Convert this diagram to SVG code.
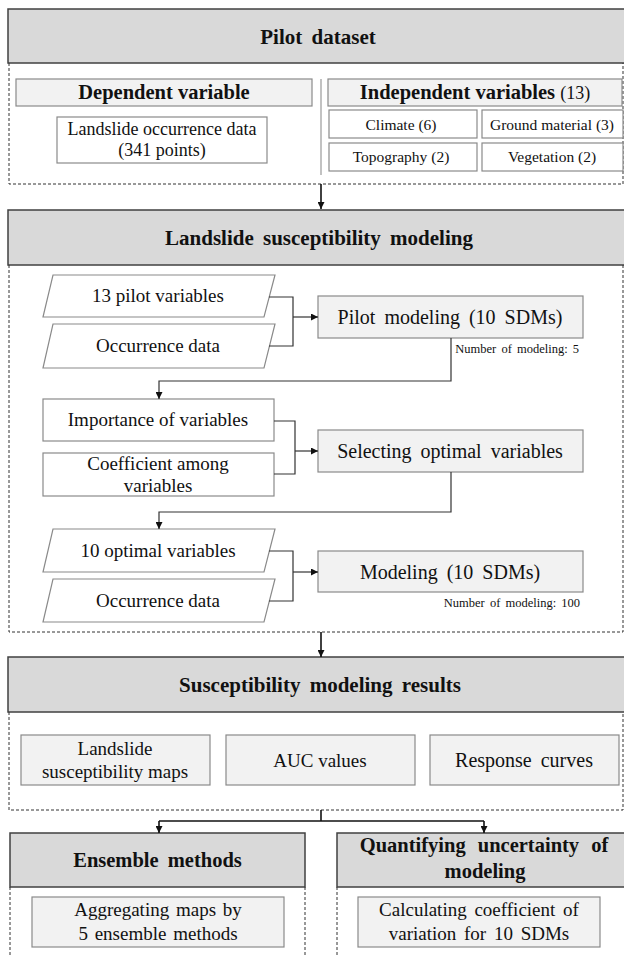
<svg xmlns="http://www.w3.org/2000/svg" width="624" height="956" viewBox="0 0 624 956" font-family="'Liberation Serif', 'Times New Roman', serif">
  <style>
    text { font-family: "Liberation Serif", "Times New Roman", serif; fill: #111; text-anchor: middle; }
    .hdr { fill: #d9d9d9; stroke: #404040; stroke-width: 1.5; }
    .sub { fill: #f2f2f2; stroke: #8a8a8a; stroke-width: 1.2; }
    .plain { fill: #ffffff; stroke: #8a8a8a; stroke-width: 1.2; }
    .frame { fill: none; stroke: #333; stroke-width: 1; stroke-dasharray: 3 2; }
    .ht { font-size: 21px; font-weight: bold; word-spacing: 4px; }
    .st { font-size: 20.5px; font-weight: bold; }
    .bt { font-size: 19px; }
    .big { font-size: 20px; word-spacing: 4px; }
    .mt { font-size: 18px; }
    .vt { font-size: 15.5px; }
    .note { font-size: 12.5px; text-anchor: end; word-spacing: 2px; }
    .wire { fill: none; stroke: #333; stroke-width: 1.2; }
    .flow { fill: none; stroke: #111; stroke-width: 1.6; }
  </style>
  <defs>
    <marker id="tri" viewBox="0 0 10 10" refX="10" refY="5" markerWidth="7" markerHeight="7" markerUnits="userSpaceOnUse" orient="auto">
      <path d="M0,0 L10,5 L0,10 Z" fill="#111"/>
    </marker>
  </defs>

  <!-- Section 1: pilot dataset -->
  <g id="pilot-dataset">
    <rect class="hdr" x="8" y="9" width="624" height="54"/>
    <text class="ht" x="318" y="44">Pilot dataset</text>
    <path class="frame" d="M9,63 V184 H623 V63"/>
    <line x1="321" y1="79" x2="321" y2="175" stroke="#999" stroke-width="1.2"/>
  </g>
  <g id="dependent-variable">
    <rect class="sub" x="16" y="79" width="296" height="27"/>
    <text class="st" x="164" y="99">Dependent variable</text>
  </g>
  <g id="occurrence-points">
    <rect class="plain" x="57" y="117" width="210" height="46"/>
    <text class="mt" x="162" y="135">Landslide occurrence data</text>
    <text class="mt" x="162" y="156">(341 points)</text>
  </g>
  <g id="independent-variables">
    <rect class="sub" x="328" y="79" width="294" height="27"/>
    <text class="st" x="475" y="99">Independent variables <tspan font-weight="normal" font-size="18">(13)</tspan></text>
  </g>
  <g id="climate">
    <rect class="plain" x="329" y="110" width="148" height="28"/>
    <text class="vt" x="401" y="130">Climate (6)</text>
  </g>
  <g id="ground-material">
    <rect class="plain" x="482" y="110" width="141" height="28"/>
    <text class="vt" x="552" y="130">Ground material (3)</text>
  </g>
  <g id="topography">
    <rect class="plain" x="329" y="143" width="148" height="28"/>
    <text class="vt" x="401" y="162">Topography (2)</text>
  </g>
  <g id="vegetation">
    <rect class="plain" x="482" y="143" width="141" height="28"/>
    <text class="vt" x="552" y="162">Vegetation (2)</text>
  </g>

  <!-- Section 2: susceptibility modeling -->
  <g id="susceptibility-modeling">
    <rect class="hdr" x="8" y="210" width="624" height="55"/>
    <text class="ht" x="319" y="245">Landslide susceptibility modeling</text>
    <path class="frame" d="M9,265 V632 H623 V265"/>
  </g>
  <g id="pilot-variables">
    <polygon class="plain" points="53,275 275,275 264,317 43,317"/>
    <text class="bt" x="158" y="302">13 pilot variables</text>
  </g>
  <g id="occurrence-data-1">
    <polygon class="plain" points="53,324 275,324 264,368 43,368"/>
    <text class="bt" x="158" y="352">Occurrence data</text>
  </g>
  <g id="pilot-modeling">
    <rect class="sub" x="318" y="296" width="265" height="42"/>
    <text class="big" x="450" y="324">Pilot modeling (10 SDMs)</text>
    <text class="note" x="579" y="353">Number of modeling: 5</text>
  </g>
  <g id="importance">
    <rect class="plain" x="43" y="399" width="231" height="42"/>
    <text class="bt" x="158" y="426">Importance of variables</text>
  </g>
  <g id="coefficient">
    <rect class="plain" x="43" y="453" width="231" height="43"/>
    <text class="bt" x="158" y="470">Coefficient among</text>
    <text class="bt" x="158" y="492">variables</text>
  </g>
  <g id="selecting-variables">
    <rect class="sub" x="318" y="430" width="265" height="42"/>
    <text class="big" x="450" y="458">Selecting optimal variables</text>
  </g>
  <g id="optimal-variables">
    <polygon class="plain" points="53,529 275,529 264,572 43,572"/>
    <text class="bt" x="158" y="557">10 optimal variables</text>
  </g>
  <g id="occurrence-data-2">
    <polygon class="plain" points="53,579 275,579 264,622 43,622"/>
    <text class="bt" x="158" y="607">Occurrence data</text>
  </g>
  <g id="modeling">
    <rect class="sub" x="318" y="551" width="265" height="41"/>
    <text class="big" x="450" y="579" font-size="21" word-spacing="2">Modeling (10 SDMs)</text>
    <text class="note" x="580" y="607">Number of modeling: 100</text>
  </g>

  <!-- Section 3: results -->
  <g id="modeling-results">
    <rect class="hdr" x="8" y="657" width="624" height="55"/>
    <text class="ht" x="320" y="692">Susceptibility modeling results</text>
    <path class="frame" d="M9,712 V810 H623 V712"/>
  </g>
  <g id="susceptibility-maps">
    <rect class="sub" x="21" y="735" width="189" height="50"/>
    <text class="bt" x="115" y="755" font-size="19.5">Landslide</text>
    <text class="bt" x="115" y="778" font-size="19.5">susceptibility maps</text>
  </g>
  <g id="auc-values">
    <rect class="sub" x="226" y="735" width="189" height="50"/>
    <text class="bt" x="320" y="767" font-size="20">AUC values</text>
  </g>
  <g id="response-curves">
    <rect class="sub" x="430" y="735" width="189" height="50"/>
    <text class="big" x="524" y="767">Response curves</text>
  </g>

  <!-- Section 4: post-processing -->
  <g id="ensemble-methods">
    <rect class="hdr" x="10" y="833" width="295" height="54"/>
    <text class="st" x="157.5" y="867" font-size="21.5" word-spacing="4">Ensemble methods</text>
    <path class="frame" d="M10,887 V960 M305,887 V960"/>
    <rect class="sub" x="32" y="897" width="252" height="50"/>
    <text class="bt" x="158" y="916" font-size="20" word-spacing="2">Aggregating maps by</text>
    <text class="bt" x="158" y="940" font-size="20" word-spacing="2">5 ensemble methods</text>
  </g>
  <g id="uncertainty">
    <rect class="hdr" x="337" y="833" width="295" height="54"/>
    <text class="st" x="484" y="852" font-size="22" word-spacing="7">Quantifying uncertainty of</text>
    <text class="st" x="485" y="878" font-size="22">modeling</text>
    <path class="frame" d="M337,887 V960"/>
    <rect class="sub" x="358" y="897" width="242" height="50"/>
    <text class="bt" x="479" y="916" font-size="20" word-spacing="3">Calculating coefficient of</text>
    <text class="bt" x="479" y="940" font-size="20" word-spacing="3">variation for 10 SDMs</text>
  </g>

  <!-- Connectors -->
  <g id="connectors">
    <line class="flow" x1="321" y1="184" x2="321" y2="209" marker-end="url(#tri)"/>
    <path class="wire" d="M269,297 H293 V346 H269"/>
    <line class="wire" x1="293" y1="317" x2="318" y2="317" marker-end="url(#tri)"/>
    <path class="wire" d="M451,338 V381 H159 V399" marker-end="url(#tri)"/>
    <path class="wire" d="M274,421 H295 V474 H274"/>
    <line class="wire" x1="295" y1="451" x2="318" y2="451" marker-end="url(#tri)"/>
    <path class="wire" d="M451,472 V512 H159 V529" marker-end="url(#tri)"/>
    <path class="wire" d="M269,551 H293 V601 H269"/>
    <line class="wire" x1="293" y1="572" x2="318" y2="572" marker-end="url(#tri)"/>
    <line class="flow" x1="321" y1="632" x2="321" y2="657" marker-end="url(#tri)"/>
    <path class="flow" d="M321,810 V821"/>
    <path class="flow" d="M159,821 H484"/>
    <line class="flow" x1="159" y1="821" x2="159" y2="833" marker-end="url(#tri)"/>
    <line class="flow" x1="484" y1="821" x2="484" y2="833" marker-end="url(#tri)"/>
  </g>
</svg>
